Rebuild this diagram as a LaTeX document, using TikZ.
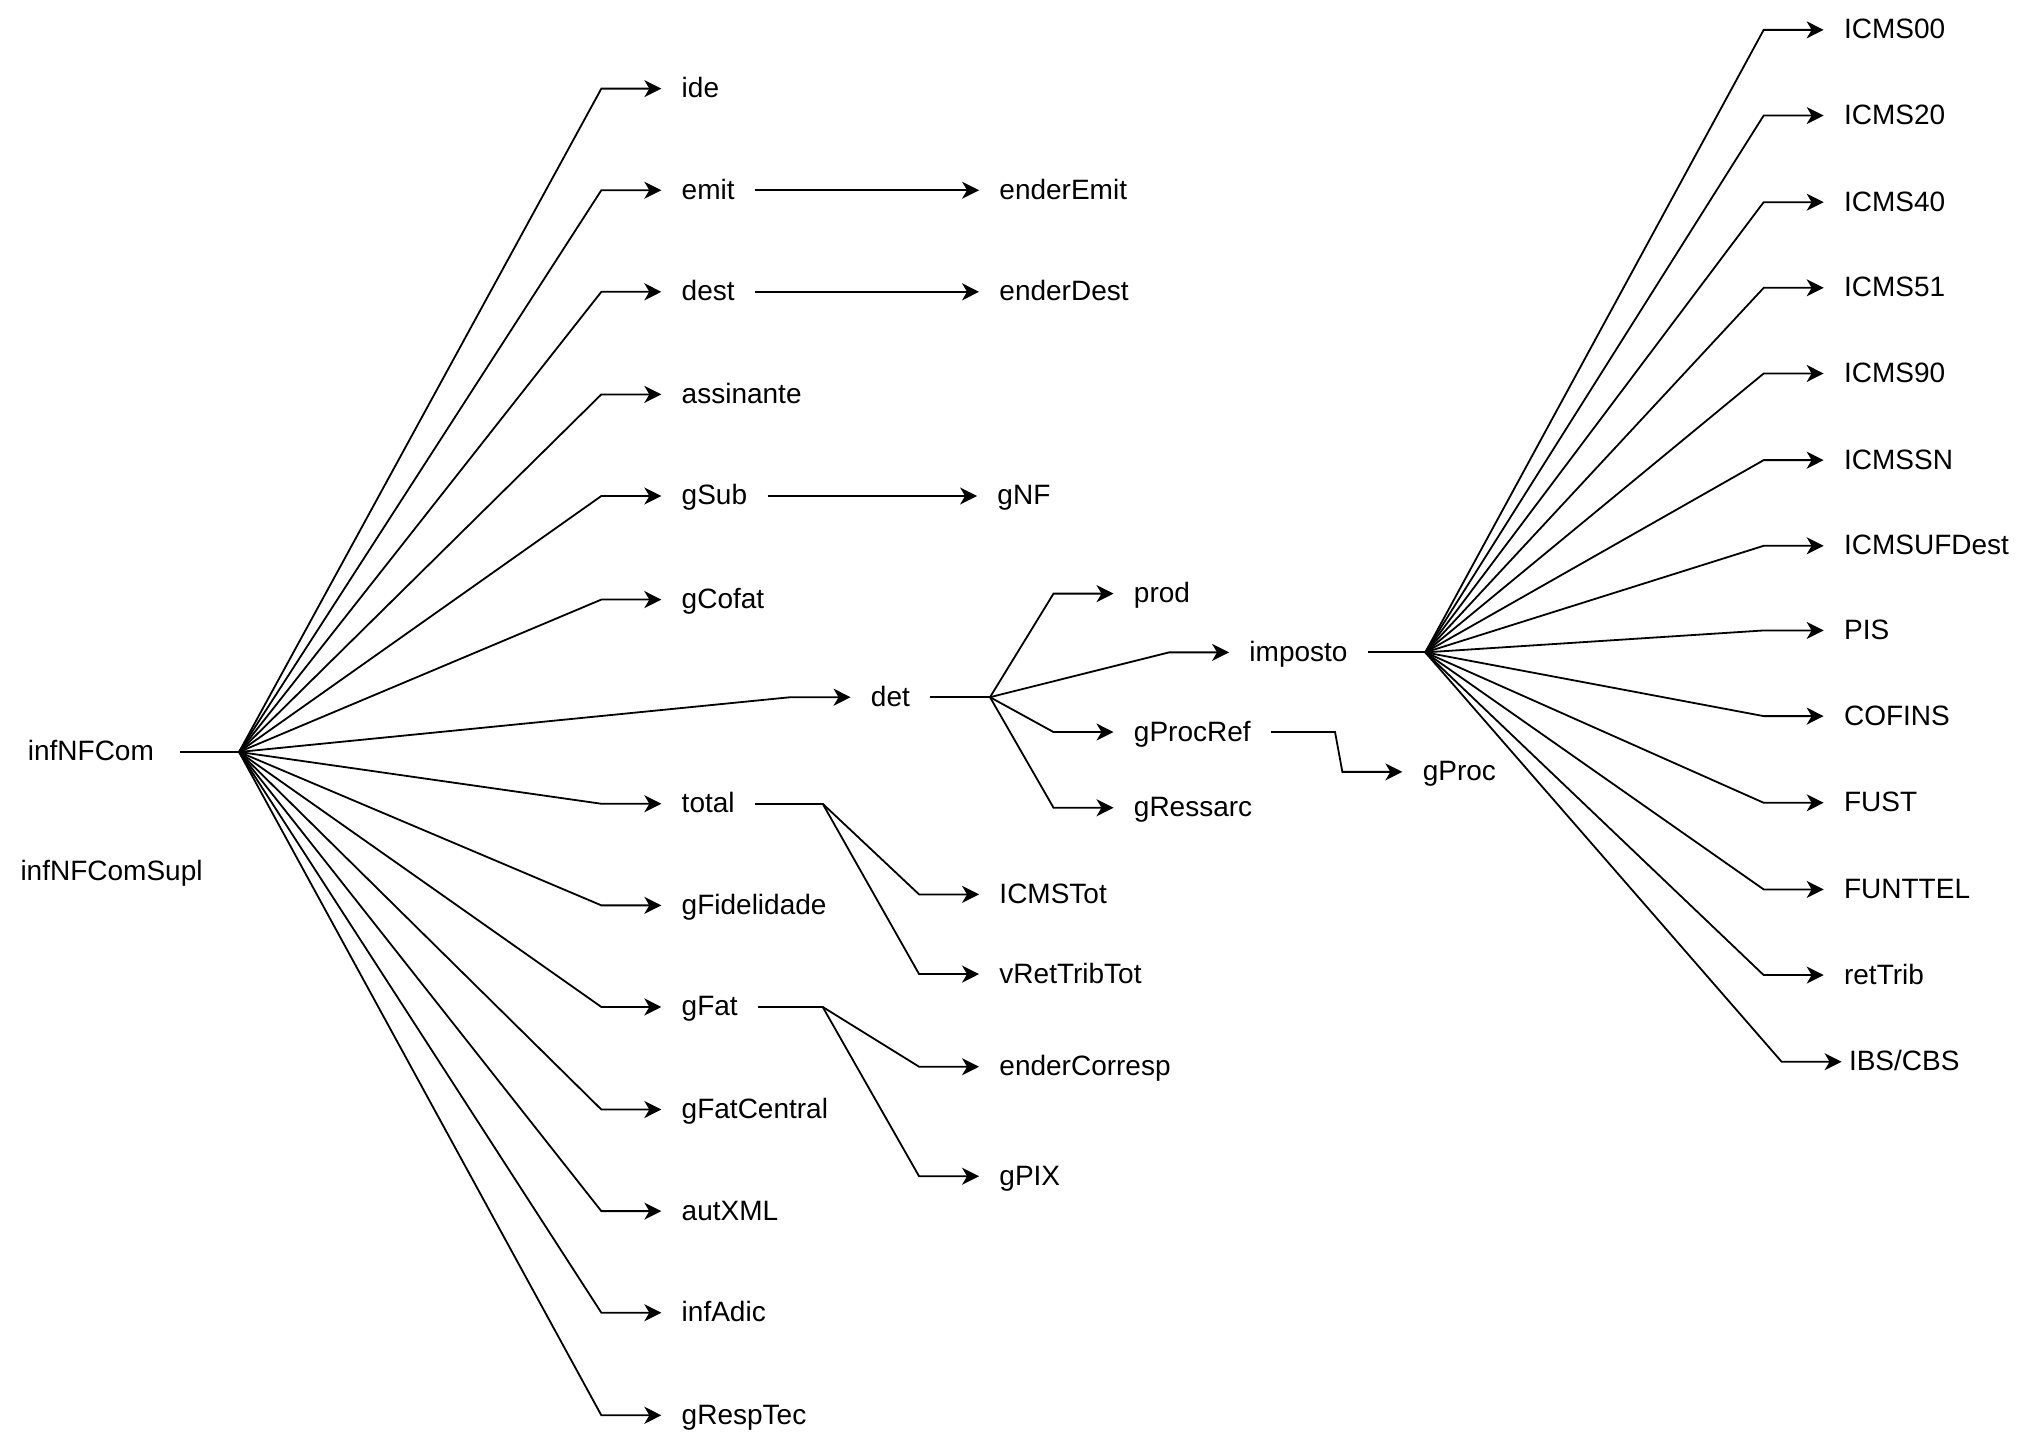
\documentclass[tikz,border=0pt]{standalone}
\usepackage{fontspec}
\setmainfont{Liberation Sans}
\usetikzlibrary{arrows.meta}

\begin{document}
\begin{tikzpicture}
  [x=0.498pt,y=-0.498pt,
   every node/.style={font=\fontsize{14}{16}\selectfont,inner xsep=10pt,inner ysep=2pt,
                      text height=11pt,text depth=2pt},
   leaf/.style={anchor=west},
   link/.style={line width=0.9pt},
   arr/.style={link,-{Stealth[length=8.5pt,width=8.5pt,inset=2.5pt]}}]
  \useasboundingbox (0,0) rectangle (2048.2,1449.8);

  % root
  \node[anchor=east,inner xsep=13pt] (root) at (181,755) {infNFCom};
  \node (supl) at (112,875) {infNFComSupl};
  \coordinate (fanL) at (240,755);
  \draw[link] (root) -- (fanL);

  % first level
  \foreach \name/\y in {ide/89,emit/191,dest/293,assinante/396,gSub/498,gCofat/602,
                        total/807,gFidelidade/909,gFat/1011,gFatCentral/1114,
                        autXML/1216,infAdic/1318,gRespTec/1421}
    \node[leaf] (\name) at (664,\y) {\name};
  \node[leaf] (det) at (854,700) {det};

  \foreach \to in {ide,emit,dest,assinante,gSub,gCofat,det,total,gFidelidade,
                   gFat,gFatCentral,autXML,infAdic,gRespTec}
    \draw[arr] (fanL) -- ([xshift=-30pt]\to.west) -- (\to.west);

  % emit, dest, gSub
  \node[leaf] (enderEmit) at (983,191) {enderEmit};
  \node[leaf] (enderDest) at (983,293) {enderDest};
  \node[leaf] (gNF) at (981,498) {gNF};
  \foreach \from/\to in {emit/enderEmit,dest/enderDest,gSub/gNF}
    \draw[arr] (\from) -- (\to);

  % det
  \coordinate (fanD) at (994,700);
  \draw[link] (det) -- (fanD);
  \node[leaf] (prod) at (1118,596) {prod};
  \node[leaf] (imposto) at (1234,655) {imposto};
  \node[leaf] (gProcRef) at (1118,735) {gProcRef};
  \node[leaf] (gRessarc) at (1118,811) {gRessarc};
  \foreach \to in {prod,imposto,gProcRef,gRessarc}
    \draw[arr] (fanD) -- ([xshift=-30pt]\to.west) -- (\to.west);

  \node[leaf] (gProc) at (1408,775) {gProc};
  \draw[arr] (gProcRef.east) -- ++(32pt,0) -- ([xshift=-30pt]gProc.west) -- (gProc.west);

  % total, gFat
  \coordinate (fanT) at (826,807);
  \coordinate (fanF) at (826,1011);
  \draw[link] (total) -- (fanT);
  \draw[link] (gFat) -- (fanF);
  \node[leaf] (ICMSTot) at (983,898) {ICMSTot};
  \node[leaf] (vRetTribTot) at (983,978) {vRetTribTot};
  \node[leaf] (enderCorresp) at (983,1071) {enderCorresp};
  \node[leaf] (gPIX) at (983,1181) {gPIX};
  \foreach \from/\to in {fanT/ICMSTot,fanT/vRetTribTot,fanF/enderCorresp,fanF/gPIX}
    \draw[arr] (\from) -- ([xshift=-30pt]\to.west) -- (\to.west);

  % imposto
  \coordinate (fanR) at (1431,655);
  \draw[link] (imposto) -- (fanR);
  \foreach \name/\y in {ICMS00/30,ICMS20/116,ICMS40/203,ICMS51/289,ICMS90/375,
                        ICMSSN/462,ICMSUFDest/548,PIS/633,COFINS/719,FUST/806,
                        FUNTTEL/893,retTrib/979}
    \node[leaf] (\name) at (1831,\y) {\name};
  \node[leaf,inner xsep=3.5pt] (ibscbs) at (1849,1066) {IBS/CBS};

  \foreach \to in {ICMS00,ICMS20,ICMS40,ICMS51,ICMS90,ICMSSN,ICMSUFDest,PIS,
                   COFINS,FUST,FUNTTEL,retTrib,ibscbs}
    \draw[arr] (fanR) -- ([xshift=-30pt]\to.west) -- (\to.west);
\end{tikzpicture}
\end{document}
